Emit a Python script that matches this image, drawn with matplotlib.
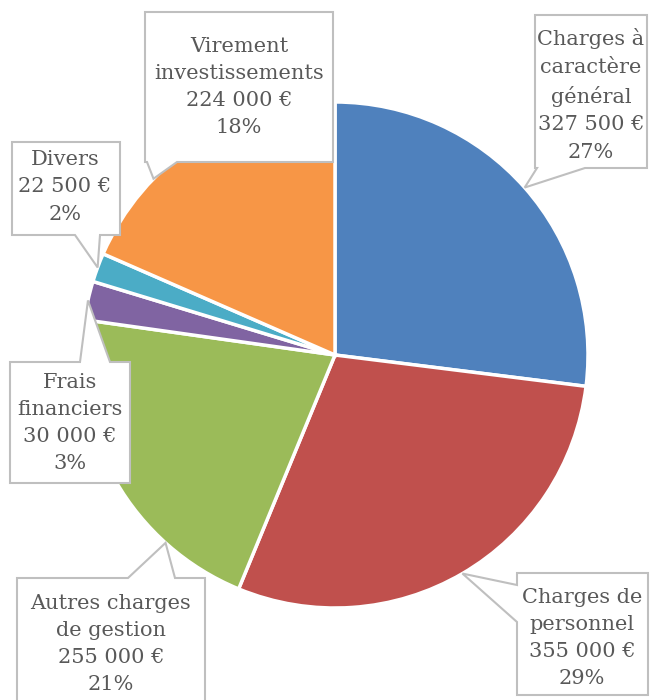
import matplotlib
matplotlib.use("Agg")
import matplotlib.pyplot as plt
from matplotlib.patches import Polygon
import numpy as np

# data
categories = ["Charges à\ncaractère\ngénéral", "Charges de\npersonnel",
              "Autres charges\nde gestion", "Frais\nfinanciers", "Divers",
              "Virement\ninvestissements"]
values = [327500, 355000, 255000, 30000, 22500, 224000]
percents = [27, 29, 21, 3, 2, 18]
colors = ["#4F81BD", "#C0504D", "#9BBB59", "#8064A2", "#4BACC6", "#F79646"]

W, H = 654, 700
fig = plt.figure(figsize=(W / 100, H / 100), dpi=100)
ax = fig.add_axes([0, 0, 1, 1])

cx, cy, r = 335, 355, 253   # pixel centre (y from top) and radius


def fy(y):
    return H - y


wedges, _ = ax.pie(values, colors=colors, startangle=90, counterclock=False,
                   center=(cx, fy(cy)), radius=r, frame=False,
                   wedgeprops=dict(edgecolor='white', linewidth=2.5))
ax.set_xlim(0, W)
ax.set_ylim(0, H)
ax.set_aspect('equal')
ax.axis('off')

total = sum(values)
cum = np.cumsum([0] + values)

# label boxes: (x0, y0, x1, y1), side of pointer, base along that side,
# and where along the wedge the pointer lands (0..1)
boxes = [
    ((535, 15, 647, 168), 'bottom', (537, 585), 0.5),
    ((517, 573, 648, 695), 'left', (585, 622), 0.5),
    ((17, 578, 205, 703), 'top', (128, 175), 0.26),
    ((10, 362, 130, 483), 'top', (80, 110), 0.5),
    ((12, 142, 120, 235), 'bottom', (75, 100), 0.5),
    ((145, 12, 333, 162), 'bottom', (147, 177), 0.31),
]
text_pos = [(591, 95), (582, 638), (111, 644), (70, 423), (65, 187), (239, 87)]


def fmt(v):
    return f"{v:,}".replace(",", " ") + " €"


for i, ((x0, y0, x1, y1), side, (a, b), frac) in enumerate(boxes):
    th = np.radians((cum[i] + frac * values[i]) / total * 360)
    tx = cx + r * np.sin(th)
    ty = cy - r * np.cos(th)
    if side == 'bottom':
        pts = [(x0, y0), (x1, y0), (x1, y1), (b, y1), (tx, ty), (a, y1), (x0, y1)]
    elif side == 'top':
        pts = [(x0, y0), (a, y0), (tx, ty), (b, y0), (x1, y0), (x1, y1), (x0, y1)]
    else:
        pts = [(x0, y0), (x1, y0), (x1, y1), (x0, y1), (x0, b), (tx, ty), (x0, a)]
    pts = [(px, fy(py)) for px, py in pts]
    ax.add_patch(Polygon(pts, closed=True, facecolor='white',
                         edgecolor='#BFBFBF', linewidth=1.5, zorder=5))
    label = f"{categories[i]}\n{fmt(values[i])}\n{percents[i]}%"
    ax.text(text_pos[i][0], fy(text_pos[i][1]), label, ha='center', va='center',
            multialignment='center', fontsize=15, family='DejaVu Serif',
            color='#595959', linespacing=1.55, zorder=6)

fig.savefig("out.png", dpi=100)
